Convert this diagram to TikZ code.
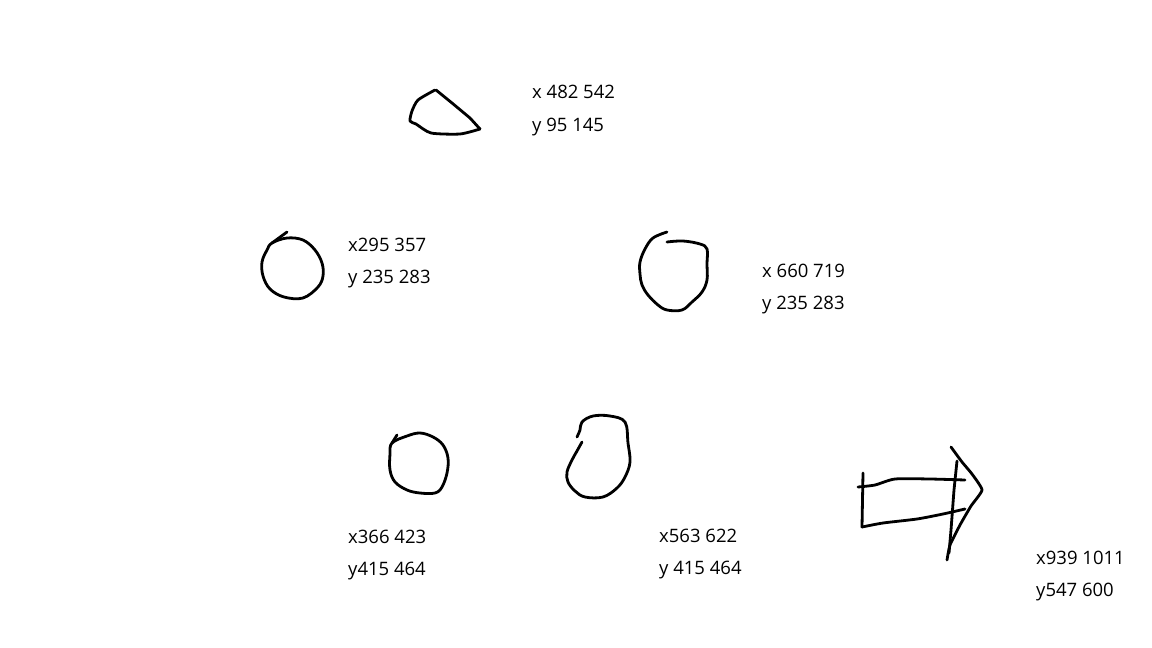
\documentclass[tikz,border=0pt]{standalone}
\usepackage{fontspec}
\setmainfont{Open Sans}
\usepackage{tikz}
\usetikzlibrary{positioning}

\tikzset{pen/.style={line width=2.8pt, line cap=round, line join=round},
  lbl/.style={anchor=base west, inner sep=0pt, font=\fontsize{18.5}{22}\selectfont}}

\begin{document}
\begin{tikzpicture}[x=1pt,y=-1pt]
\useasboundingbox (0,0) rectangle (1152,648);

% top shape
\draw[pen] plot[smooth, tension=0.4] coordinates {(435,90) (418,100) (412,111) (410,121) (416,124) (431,133) (460,134) (480,129)};
\draw[pen] (436,90) -- (452,103) -- (470,118) -- (480,129);
\node[lbl] (x482) at (532,98) {x 482 542};
\node[lbl] (y95) at (532,131) {y 95 145};

% left circle
\draw[pen] (287,232) -- (272,243);
\draw[pen] plot[smooth cycle, tension=0.6] coordinates {(272,243) (287,238) (303,240) (315,250) (322,263) (323,276) (318,287) (303,298) (284,297) (270,289) (263,276) (262,262) (267,250)};
\node[lbl] (x295) at (348,251) {x295 357};
\node[lbl] (y235a) at (348,283) {y 235 283};

% right circle
\draw[pen] plot[smooth, tension=0.6] coordinates {(667,242) (683,241) (700,244) (707,249) (707,264) (707,280) (702,292) (692,302) (682,310) (667,310) (658,305) (648,295) (642,285) (640,274) (640,262) (645,249) (653,238) (667,232)};
\node[lbl] (x660) at (762,277) {x 660 719};
\node[lbl] (y235b) at (762,309) {y 235 283};

% lower circles
\draw[pen] (397,435) -- (392,443);
\draw[pen] plot[smooth cycle, tension=0.6] coordinates {(392,443) (407,436) (420,433) (433,437) (443,445) (448,458) (447,473) (442,487) (435,493) (420,493) (407,490) (395,482) (390,470) (390,454)};
\node[lbl] (x366) at (348,543) {x366 423};
\node[lbl] (y415a) at (348,575) {y415 464};

\draw[pen] plot[smooth, tension=0.6] coordinates {(582,442) (577,451) (572,460) (567,472) (568,482) (575,491) (585,497) (603,497) (617,488) (625,477) (630,462) (628,443) (625,422) (610,416) (593,416) (582,422) (580,430) (577,437)};
\node[lbl] (x563) at (659,542) {x563 622};
\node[lbl] (y415b) at (659,574) {y 415 464};

% arrow
\draw[pen] (863,473) -- (862,527);
\draw[pen] plot[smooth, tension=0.4] coordinates {(858,487) (875,485) (895,479) (930,479) (965,480)};
\draw[pen] plot[smooth, tension=0.4] coordinates {(862,527) (883,523) (917,519) (943,514) (965,509)};
\draw[pen] (957,461) -- (954,490) -- (951,530) -- (949,553);
\draw[pen] plot[smooth, tension=0.3] coordinates {(951,447) (962,462) (972,474) (982,490) (971,506) (960,525) (950,545) (947,560)};
\node[lbl] (x939) at (1036,564) {x939 1011};
\node[lbl] (y547) at (1036,596) {y547 600};
\end{tikzpicture}
\end{document}
